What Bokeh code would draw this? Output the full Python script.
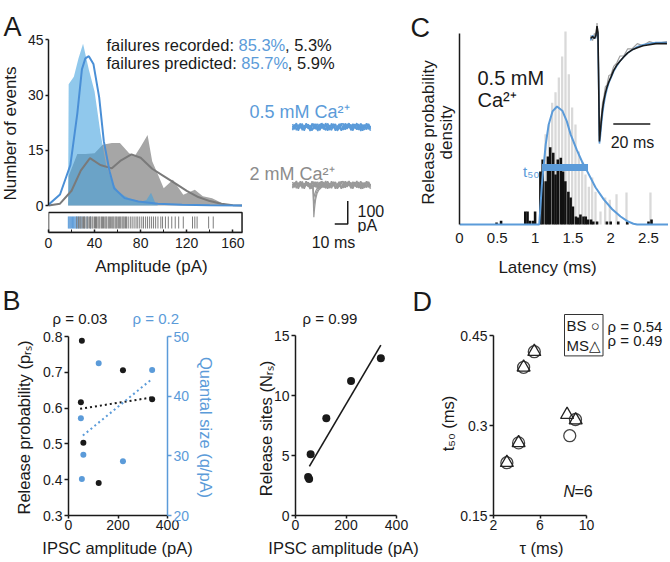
import math
from bokeh.plotting import figure
from bokeh.models import Range1d, LinearAxis, FixedTicker, Label, GridBox
from bokeh.layouts import row, column
from bokeh.embed import file_html
from bokeh.resources import INLINE

FONT = "Liberation Sans"
BLUE = "#5b9bd9"
BLUE_LINE = "#4a8fd6"
BLUE_FILL = "#40a0de"
GRAY_FILL = "#a6a6a6"
GRAY_LINE = "#7a7a7a"
GRAY_TXT = "#8c8c8c"
INK = "#1a1a1a"

# ======================= DATA =======================
# --- A: amplitude histograms (frequency polygons, events) ---
hist05_x = [17, 17.5, 22, 26, 30, 35, 40, 45, 50, 55, 60, 65, 70, 75, 80, 85, 89, 93, 95]
hist05_y = [0, 33, 35, 40, 44, 37, 31, 20, 11, 6.5, 4, 2.8, 2, 1.5, 1, 1.5, 3.5, 0.5, 0]
hist2_x = [17, 17.5, 25, 32, 40, 47, 55, 62, 70, 75, 80, 86, 90, 95, 100, 108, 117, 127, 134, 142, 151, 160]
hist2_y = [0, 8, 14, 14, 14.2, 16.5, 17, 17, 14.2, 13.5, 16, 19.2, 12, 8.4, 4.7, 7, 2.9, 4.3, 2.5, 2, 0.6, 0]
# fitted distributions
fit05_x = [0, 10, 19, 25, 29, 32, 35, 39, 44, 48, 53, 57, 66, 78, 95, 116, 140, 168]
fit05_y = [0.2, 3, 11, 25, 37, 40, 40.6, 38.5, 29.4, 17.5, 9.3, 4.7, 2, 1.1, 0.5, 0.2, 0.1, 0]
fit2_x = [0, 10, 20, 28, 36, 45, 55, 63, 72, 80, 90, 100, 110, 120, 130, 140, 150, 160, 168]
fit2_y = [0, 0.5, 4, 9.5, 12.9, 11, 10.1, 12.3, 13.9, 13, 10, 8, 6, 4, 2.3, 1.2, 0.5, 0.1, 0]
# raster of single amplitudes (pA)
raster05 = [17.2, 17.9, 18.6, 19.3, 20.1, 20.8, 21.6, 22.3, 23.1, 23.9, 24.6, 25.4, 26.3,
            27.5, 29, 31, 33.5, 36.5]
raster2 = [24.5, 26, 27.2, 28.1, 29.3, 30.4, 31.2, 32.5, 33.6, 34.4, 35.7, 36.5, 37.8, 38.6,
           39.9, 40.8, 41.7, 42.9, 43.8, 44.6, 45.9, 46.8, 47.7, 48.9, 49.8, 50.6, 51.9, 52.8,
           53.7, 54.9, 55.8, 56.7, 57.9, 58.8, 59.6, 60.9, 61.8, 62.7, 63.9, 64.8, 65.7, 66.9,
           67.8, 69.2, 71, 72.6, 74.3, 76, 77.5, 79.2, 81, 82.5, 84.3, 86, 87.8, 89.5, 91.2, 93,
           95, 97.5, 99, 101.5, 104, 107, 110, 113, 117, 125, 127, 129, 139, 143]
amp_ticks = [0, 40, 80, 120, 160]
amp_minor = [20, 60, 100, 140]
amp_max = 168
count_ticks = [0, 15, 30, 45]
fail_rec = ["85.3%", "5.3%"]
fail_pred = ["85.7%", "5.9%"]

# --- A: example traces (time ms, current pA) ---
trace_t = [0, 1.5, 3, 4.5, 6, 7.5, 9, 10.5, 12, 13.5, 15, 16.5, 18, 19.5, 21, 22.5, 24, 25.5,
           27, 28.5, 30, 31.5, 33, 34.5, 36, 37.5, 39, 40.5, 42, 43.5, 45, 46.5, 48, 49.5, 51,
           52.5, 54, 55.5, 57, 58.5, 60]
sweep1 = [5, -10, 13, -6, 16, -14, 8, -3, 11, -17, 6, 14, -10, 3, -13, 17, -5, 10, -16, 8, -6,
          14, -11, 5, -8, 16, -13, 6, -3, 13, -14, 10, -5, 17, -10, 3, -16, 11, -6, 14, -8]
sweep2 = [-8, 11, -14, 10, -5, 13, -10, 16, -6, 8, -13, -3, 14, -11, 10, -6, 13, -14, 5, -10,
          16, -5, 11, -13, 8, -16, 6, -10, 14, -3, 11, -8, 13, -11, 6, -14, 10, -5, 16, -10, 5]
sweep3 = [13, -3, 6, -16, 10, 2, -11, 14, -5, -10, 16, -8, 3, 13, -14, 6, -10, 17, -3, -13, 8,
          11, -16, 2, 14, -6, -11, 16, -8, 5, -13, 14, -2, -10, 13, -17, 8, 3, -11, 10, -3]
sweep4 = [-14, 4, 17, -9, -2, 15, -16, 6, 12, -4, -15, 9, 2, -17, 11, 14, -6, -12, 16, 1, -14,
          7, 13, -16, -3, 12, 15, -11, -1, 17, -7, -15, 9, 4, -13, 16, -4, -12, 14, 5, -16]
blue_base_pA = 252
spike_t = [15.2, 15.8, 16.4, 17.0, 17.8, 18.8, 20.2, 22.0, 24.2, 27.0]
spike_a = [0, -22, -140, -100, -62, -38, -22, -12, -5, 0]
spike_b = [0, -15, -95, -70, -44, -27, -15, -8, -3, 0]
spike_c = [0, -10, -55, -42, -27, -16, -9, -5, -2, 0]
scalebar_t = [32.5, 42.5, 42.5]
scalebar_pA = [-170, -170, -70]

# --- B: per-cell estimates ---
ipsc_amp = [50, 54, 60, 122, 220, 338]
p_rs = [0.616, 0.788, 0.503, 0.391, 0.706, 0.625]
q_pA = [36.3, 26.1, 30.2, 45.5, 29.1, 44.4]
n_rs = [3.2, 3.05, 5.1, 8.1, 11.2, 13.1]
fit_p_x = [47, 339]
fit_p_y = [0.598, 0.630]
fit_q_x = [58, 332]
fit_q_y = [33.4, 42.7]
fit_n_x = [55, 338]
fit_n_y = [4.1, 14.2]
rho_p, rho_q, rho_n = "0.03", "0.2", "0.99"

# --- C: latency distribution (ms, density) ---
lat_black = [0.49, 0.55, 0.87, 0.90, 0.93, 0.97, 1.00, 1.07, 1.10, 1.14, 1.17, 1.20, 1.24,
             1.27, 1.30, 1.34, 1.37, 1.40, 1.44, 1.47, 1.50, 1.54, 1.57, 1.60, 1.64, 1.67,
             1.70, 1.74, 1.77, 1.82, 1.95, 2.00, 2.10, 2.22, 2.50, 2.54]
dens_black = [0.05, 0.10, 0.34, 0.34, 0.10, 0.10, 0.34, 1.39, 1.70, 1.13, 1.78, 2.02, 1.88,
              1.31, 1.70, 1.75, 1.39, 1.13, 0.86, 0.71, 0.47, 0.21, 0.18, 0.26, 0.21, 0.21,
              0.13, 0.13, 0.08, 0.08, 0.08, 0.08, 0.08, 0.08, 0.08, 0.13]
lat_gray = [1.094, 1.138, 1.182, 1.226, 1.270, 1.314, 1.358, 1.402, 1.446, 1.490, 1.534,
            1.578, 1.623, 1.666, 1.711, 1.755, 1.799, 1.865, 1.927, 1.988, 2.077, 2.209, 2.526]
dens_gray = [1.05, 2.36, 2.62, 3.19, 3.46, 3.85, 4.40, 5.05, 3.93, 3.06, 2.62, 1.91, 1.65,
             1.31, 0.99, 1.23, 0.86, 0.34, 0.71, 0.65, 0.79, 0.84, 0.84]
pdf_lat = [0, 1.055, 1.09, 1.14, 1.18, 1.23, 1.29, 1.36, 1.42, 1.47, 1.55, 1.62, 1.69, 1.80,
           1.91, 2.02, 2.13, 2.22, 2.30, 2.35, 2.76]
pdf_val = [0, 0, 1.05, 2.09, 2.62, 2.96, 3.09, 2.98, 2.70, 2.36, 1.96, 1.65, 1.39, 0.97, 0.65,
           0.40, 0.21, 0.09, 0.02, 0, 0]
t50_span = [1.09, 1.70]
t50_level = 1.49
lat_ticks = [0, 0.5, 1, 1.5, 2, 2.5]
# inset: averaged IPSC (ms, normalised)
inset_t = [-4.3, -3.2, -2.2, -1.4, -0.8, -0.3, 0, 0.5, 1.0, 1.6, 2.2, 2.9, 3.7, 4.6, 5.6, 6.8,
           8.2, 9.8, 11.6, 13.6, 15.8, 18.2, 21, 24, 27.5, 31, 37]
inset_gray = [0.03, -0.02, 0.05, 0.0, 0.15, 0.02, -0.25, -0.95, -0.84, -0.74, -0.62, -0.57,
              -0.47, -0.45, -0.36, -0.35, -0.27, -0.24, -0.17, -0.17, -0.10, -0.10, -0.05,
              -0.07, -0.03, -0.05, -0.03]
inset_black = [0, 0.02, 0, 0.03, 0.12, 0.06, -0.3, -1.0, -0.9, -0.78, -0.68, -0.6, -0.53,
               -0.47, -0.42, -0.37, -0.31, -0.26, -0.22, -0.18, -0.14, -0.11, -0.09, -0.07,
               -0.06, -0.05, -0.05]
inset_fit = [-0.02, 0.03, 0.0, 0.02, 0.08, 0.04, -0.35, -1.02, -0.95, -0.83, -0.73, -0.64,
             -0.56, -0.49, -0.43, -0.38, -0.32, -0.27, -0.22, -0.18, -0.14, -0.11, -0.08,
             -0.06, -0.05, -0.04, -0.04]
inset_bar_t = [8, 28]
inset_bar_y = -0.83

# --- D: t50 vs tau ---
tau_bs = [3.15, 4.16, 4.59, 5.51, 8.56, 9.05]
t50_bs = [0.238, 0.271, 0.397, 0.423, 0.283, 0.310]
tau_ms = [3.15, 4.16, 4.59, 5.51, 8.33, 9.07]
t50_ms = [0.238, 0.271, 0.397, 0.423, 0.318, 0.309]
rho_bs, rho_ms = "0.54", "0.49"
n_cells = 6


# ======================= HELPERS =======================
def base_fig(w, h, xr, yr, l, r, t, b):
    p = figure(width=w, height=h, x_range=xr, y_range=yr, output_backend="svg",
               toolbar_location=None, min_border_left=l, min_border_right=r,
               min_border_top=t, min_border_bottom=b, title=None)
    p.grid.visible = False
    p.outline_line_color = None
    p.background_fill_color = "white"
    p.border_fill_color = "white"
    return p


def style_axis(ax, tick_px=14, color=INK):
    ax.axis_line_color = color
    ax.axis_line_width = 1.5
    ax.major_tick_line_color = color
    ax.major_tick_line_width = 1.5
    ax.major_tick_in = 0
    ax.major_tick_out = 4
    ax.minor_tick_line_color = None
    ax.major_label_text_font = FONT
    ax.major_label_text_font_size = f"{tick_px}px"
    ax.major_label_text_color = color
    ax.major_label_standoff = 2


def lab(p, x, y, text, px=16, color=INK, align="left", baseline="alphabetic",
        style="normal", **kw):
    p.add_layout(Label(x=x, y=y, text=text, text_font=FONT, text_font_size=f"{px}px",
                       text_color=color, text_align=align, text_baseline=baseline,
                       text_font_style=style, **kw))


PAGE_W, PAGE_H = 668, 560
ROW1_H = 275
ROW2_H = PAGE_H - ROW1_H
ROW1_B = 43          # shared bottom border of the top row (frames are aligned)

# ======================= PANEL A (+ traces) =======================
TLW, TLL = 410, 48
A_PX, A_PY = 1.152, 3.678           # px per pA, px per event
A_X0, A_Y0 = 48, 205                 # page position of (0 pA, 0 events)
FR_B = ROW1_H - ROW1_B               # frame bottom (page px)
pA_fx = lambda rx: (rx - A_X0) / A_PX
pA_fy = lambda ry: (A_Y0 - ry) / A_PY
pa = base_fig(TLW, ROW1_H, Range1d(0, (TLW - TLL) / A_PX),
              Range1d(pA_fy(FR_B), pA_fy(0)), TLL, 0, 0, ROW1_B)
T_PX, T_PY = 1.3, 0.23
T_X0, T_Y0 = 292, 184.5
pa.extra_x_ranges = {"tx": Range1d((TLL - T_X0) / T_PX, (TLW - T_X0) / T_PX)}
pa.extra_y_ranges = {"ty": Range1d((T_Y0 - FR_B) / T_PY, T_Y0 / T_PY)}

style_axis(pa.yaxis[0], 14)
pa.yaxis.ticker = FixedTicker(ticks=count_ticks)
pa.yaxis.bounds = (0, 45)
pa.yaxis.major_tick_out = 3
style_axis(pa.xaxis[0], 14)
pa.xaxis.ticker = FixedTicker(ticks=amp_ticks, minor_ticks=amp_minor)
pa.xaxis.bounds = (0, amp_max)
pa.xaxis.major_tick_in = 3
pa.xaxis.major_tick_out = 0
pa.xaxis.minor_tick_line_color = INK
pa.xaxis.minor_tick_in = 3
pa.xaxis.minor_tick_out = 0
pa.xaxis.major_label_standoff = 5

pa.patch(hist2_x, hist2_y, fill_color=GRAY_FILL, line_color=None)
pa.patch(hist05_x, hist05_y, fill_color=BLUE_FILL, fill_alpha=0.58, line_color=None)
pa.line(fit2_x, fit2_y, line_color=GRAY_LINE, line_width=2)
pa.line(fit05_x, fit05_y, line_color=BLUE_LINE, line_width=2)

rb, rt = pA_fy(228), pA_fy(216)
pa.segment(x0=raster05, y0=rb, x1=raster05, y1=rt, line_color=BLUE, line_width=1)
pa.segment(x0=raster2, y0=rb, x1=raster2, y1=rt, line_color="#7d7d7d", line_width=1)
pa.quad(left=0, right=amp_max, bottom=pA_fy(FR_B), top=pA_fy(212), fill_color=None,
        line_color=INK, line_width=1.5)

lab(pa, pA_fx(106), pA_fy(44), "failures recorded: ", 16.5)
lab(pa, pA_fx(238), pA_fy(44), fail_rec[0], 16.5, BLUE)
lab(pa, pA_fx(284.5), pA_fy(44), ", " + fail_rec[1], 16.5)
lab(pa, pA_fx(106), pA_fy(62), "failures predicted: ", 16.5)
lab(pa, pA_fx(240.8), pA_fy(62), fail_pred[0], 16.5, BLUE)
lab(pa, pA_fx(287.3), pA_fy(62), ", " + fail_pred[1], 16.5)

# traces
for sw in (sweep1, sweep2, sweep3, sweep4):
    pa.line(trace_t, [blue_base_pA + v for v in sw], line_color=BLUE, line_width=1.5,
            x_range_name="tx", y_range_name="ty")
for sw in (sweep2, sweep4, sweep3, sweep1):
    pa.line(trace_t, sw, line_color="#9a9a9a", line_width=1.5,
            x_range_name="tx", y_range_name="ty")
for sp in (spike_c, spike_b, spike_a):
    pa.line(spike_t, sp, line_color="#9a9a9a", line_width=1.2,
            x_range_name="tx", y_range_name="ty")
pa.line(scalebar_t, scalebar_pA, line_color=INK, line_width=1.5,
        x_range_name="tx", y_range_name="ty")
lab(pa, pA_fx(249), pA_fy(111), "0.5 mM Ca²⁺", 18, BLUE)
lab(pa, pA_fx(249), pA_fy(173), "2 mM Ca²⁺", 18, GRAY_TXT)
lab(pa, pA_fx(357), pA_fy(210), "100", 16)
lab(pa, pA_fx(357), pA_fy(225), "pA", 16)

# ======================= PANEL C =======================
CW, CL = PAGE_W - TLW, 49
C_PX, C_PY = 75.6, 38.2
C_X0, C_Y0 = TLW + CL, 224          # page position of (0 ms, 0 density)
c_fx = lambda rx: (rx - C_X0) / C_PX
c_fy = lambda ry: (C_Y0 - ry) / C_PY
pc = base_fig(CW, ROW1_H, Range1d(0, (CW - CL) / C_PX), Range1d(c_fy(FR_B), c_fy(0)),
              CL, 0, 0, ROW1_B)
I_PX, I_PY = 1.85, 103.0
I_X0, I_Y0 = 598, 38
pc.extra_x_ranges = {"ix": Range1d((C_X0 - I_X0) / I_PX, (PAGE_W - I_X0) / I_PX)}
pc.extra_y_ranges = {"iy": Range1d((I_Y0 - FR_B) / I_PY, I_Y0 / I_PY)}
style_axis(pc.xaxis[0], 15)
pc.xaxis.ticker = FixedTicker(ticks=lat_ticks)
pc.xaxis.axis_line_color = None
pc.xaxis.major_tick_line_color = None
pc.xaxis.major_tick_out = 0
pc.xaxis.major_label_standoff = 0
style_axis(pc.yaxis[0], 15)
pc.yaxis.ticker = FixedTicker(ticks=[])
pc.yaxis.major_tick_out = 0
pc.yaxis.bounds = (0, 5.0)

pc.vbar(x=lat_gray, top=dens_gray, width=0.03, fill_color="#d9d9d9", line_color=None)
pc.vbar(x=lat_black, top=dens_black, width=0.034, fill_color="#111111", line_color=None)
pc.line(pdf_lat, pdf_val, line_color=BLUE, line_width=2)
pc.line(t50_span, [t50_level, t50_level], line_color=BLUE, line_width=7)
lab(pc, c_fx(539), c_fy(171), "t₅₀", 15, BLUE, align="right")
lab(pc, c_fx(477), c_fy(77), "0.5 mM", 20)
lab(pc, c_fx(477), c_fy(99), "Ca²⁺", 20)
pc.line(inset_t, inset_gray, line_color="#a0a0a0", line_width=1.2, x_range_name="ix", y_range_name="iy")
pc.line(inset_t, inset_fit, line_color=BLUE, line_width=1.6, x_range_name="ix", y_range_name="iy")
pc.line(inset_t, inset_black, line_color=INK, line_width=1.6, x_range_name="ix", y_range_name="iy")
pc.line(inset_bar_t, [inset_bar_y, inset_bar_y], line_color=INK, line_width=1.5,
        x_range_name="ix", y_range_name="iy")
lab(pc, c_fx(632), c_fy(142), "20 ms", 16, align="center")

# ======================= PANEL B (left) =======================
BW, BL, BR, BB = 230, 68, 63, 45
FR_H = ROW2_H - BB
pb = base_fig(BW, ROW2_H, Range1d(0, 400), Range1d(0.3, 0.3 + FR_H / 358), BL, BR, 0, BB)
pb.extra_y_ranges = {"q": Range1d(20, 20 + FR_H / (179 / 30))}
style_axis(pb.xaxis[0], 14)
pb.xaxis.ticker = FixedTicker(ticks=[0, 200, 400])
pb.xaxis.major_tick_out = 3
pb.xaxis.major_label_standoff = 1
style_axis(pb.yaxis[0], 14)
pb.yaxis.ticker = FixedTicker(ticks=[0.3, 0.4, 0.5, 0.6, 0.7, 0.8])
pb.yaxis.bounds = (0.3, 0.8)
qax = LinearAxis(y_range_name="q")
style_axis(qax, 14, BLUE)
qax.ticker = FixedTicker(ticks=[20, 30, 40, 50])
qax.bounds = (20, 50)
pb.add_layout(qax, "right")

pb.line(fit_p_x, fit_p_y, line_color=INK, line_width=2, line_dash="2 3")
pb.line(fit_q_x, fit_q_y, line_color=BLUE, line_width=2, line_dash="2 3", y_range_name="q")
pb.scatter(ipsc_amp, p_rs, size=6, fill_color=INK, line_color=None)
pb.scatter(ipsc_amp, q_pA, size=6, fill_color=BLUE, line_color=None, y_range_name="q")

# ======================= PANEL B (right) =======================
RW, RL, RR = 200, 65, 34
pr = base_fig(RW, ROW2_H, Range1d(0, 400), Range1d(0, FR_H / 12), RL, RR, 0, BB)
style_axis(pr.xaxis[0], 14)
pr.xaxis.ticker = FixedTicker(ticks=[0, 200, 400])
pr.xaxis.major_tick_out = 3
pr.xaxis.major_label_standoff = 1
style_axis(pr.yaxis[0], 14)
pr.yaxis.ticker = FixedTicker(ticks=[0, 5, 10, 15])
pr.yaxis.bounds = (0, 15)
pr.line(fit_n_x, fit_n_y, line_color=INK, line_width=1.6)
pr.scatter(ipsc_amp, n_rs, size=8, fill_color=INK, line_color=None)

# ======================= PANEL D =======================
DW, DL = PAGE_W - BW - RW, 63
d_fx = lambda rx: 2 + (rx - 493) / 11.625
d_fy = lambda ry: 0.15 + (515 - ry) / 600
pd = base_fig(DW, ROW2_H, Range1d(2, 2 + (DW - DL) / 11.625), Range1d(0.15, 0.15 + FR_H / 600),
              DL, 0, 0, BB)
style_axis(pd.xaxis[0], 14)
pd.xaxis.ticker = FixedTicker(ticks=[2, 6, 10])
pd.xaxis.bounds = (2, 10)
pd.xaxis.major_tick_out = 3
pd.xaxis.major_label_standoff = 1
style_axis(pd.yaxis[0], 14)
pd.yaxis.ticker = FixedTicker(ticks=[0.15, 0.3, 0.45])
pd.yaxis.bounds = (0.15, 0.45)
pd.scatter(tau_bs, t50_bs, marker="circle", size=12, fill_color=None, line_color="#444444",
           line_width=1.3)
pd.scatter(tau_ms, t50_ms, marker="triangle", size=13, fill_color=None, line_color="#222222",
           line_width=1.3)
lab(pd, d_fx(563), d_fy(491), "N", 16, style="italic")
lab(pd, d_fx(574), d_fy(491), "=" + str(n_cells), 16)

# ======================= TEXT OVERLAY (page pixels) =======================
ov = figure(width=PAGE_W, height=PAGE_H, x_range=Range1d(0, PAGE_W), y_range=Range1d(PAGE_H, 0),
            output_backend="svg", toolbar_location=None, min_border_left=0, min_border_right=0,
            min_border_top=0, min_border_bottom=0, x_axis_location=None, y_axis_location=None,
            title=None)
ov.grid.visible = False
ov.outline_line_color = None
ov.background_fill_color = None
ov.border_fill_color = None
UP, DOWN = math.pi / 2, -math.pi / 2
# panel letters
lab(ov, 3, 26, "A", 27)
lab(ov, 410, 27, "C", 27)
lab(ov, 2, 300, "B", 27)
lab(ov, 412, 301, "D", 27)
# axis titles
lab(ov, 10, 133, "Number of events", 17, align="center", baseline="middle", angle=UP)
lab(ov, 151, 266, "Amplitude (pA)", 17, align="center")
lab(ov, 428, 132, "Release probability", 17, align="center", baseline="middle", angle=UP)
lab(ov, 446, 132, "density", 17, align="center", baseline="middle", angle=UP)
lab(ov, 547, 267, "Latency (ms)", 17, align="center")
lab(ov, 23, 427, "Release probability (pᵣₛ)", 16.5, align="center", baseline="middle", angle=UP)
lab(ov, 205, 427, "Quantal size (q/pA)", 16.5, BLUE, align="center", baseline="middle", angle=DOWN)
lab(ov, 117, 547, "IPSC amplitude (pA)", 16.5, align="center")
lab(ov, 265, 428, "Release sites (Nᵣₛ)", 16.5, align="center", baseline="middle", angle=UP)
lab(ov, 343, 547, "IPSC amplitude (pA)", 16.5, align="center")
lab(ov, 447, 423, "t₅₀ (ms)", 16.5, align="center", baseline="middle", angle=UP)
lab(ov, 541, 547, "τ (ms)", 16.5, align="center")
# correlations, scale bar and legend
lab(ov, 52, 318, "ρ = " + rho_p, 15)
lab(ov, 132, 318, "ρ = " + rho_q, 15, BLUE)
lab(ov, 302, 318, "ρ = " + rho_n, 15)
lab(ov, 333, 242, "10 ms", 16, align="center")
lab(ov, 564, 314, "BS ○\nMS△", 15, baseline="top",
    border_line_color="#333333", border_line_width=1, padding=2)
lab(ov, 607, 326, "ρ = " + rho_bs, 15)
lab(ov, 607, 340, "ρ = " + rho_ms, 15)

base = column(row(pa, pc), row(pb, pr, pd))
layout = GridBox(children=[(base, 0, 0), (ov, 0, 0)])
open("out.html", "w").write(file_html(layout, INLINE))
